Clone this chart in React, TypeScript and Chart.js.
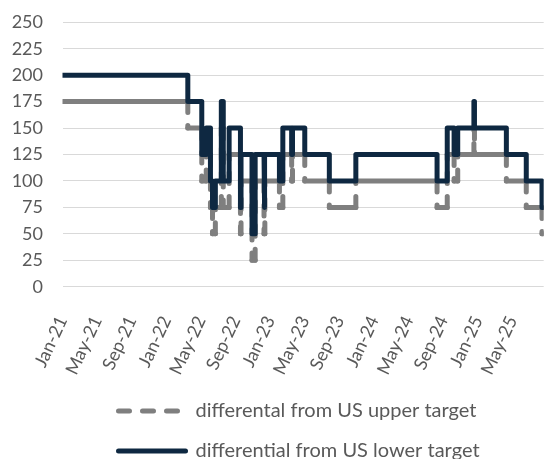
import React, { useEffect, useRef } from 'react';
import { Chart, registerables } from 'chart.js';

Chart.register(...registerables);

// Dates at which the differentials change (daily policy-rate data, step changes)
const changeDates = [
  '2021-01-01', '2022-03-16', '2022-05-04', '2022-05-20', '2022-06-04', '2022-06-11',
  '2022-06-21', '2022-07-12', '2022-07-19', '2022-08-09', '2022-09-18', '2022-09-20',
  '2022-10-29', '2022-11-09', '2022-12-10', '2022-12-13', '2023-02-03', '2023-02-14',
  '2023-03-16', '2023-03-19', '2023-05-01', '2023-07-27', '2023-10-29', '2024-08-10',
  '2024-09-15', '2024-10-09', '2024-10-22', '2024-12-18', '2024-12-20', '2025-04-10',
  '2025-06-19', '2025-08-14',
];
// differential from US lower target (bp), value from each change date on
const lowerValues = [
  200, 175, 125, 150, 100, 75,
  100, 175, 100, 150, 75, 125,
  50, 125, 75, 125, 100, 150,
  125, 150, 125, 100, 125, 100,
  150, 125, 150, 175, 150, 125,
  100, 75,
];
// differental from US upper target (bp), value from each change date on
const upperValues = [
  175, 150, 100, 125, 75, 50,
  75, 150, 75, 125, 50, 100,
  25, 100, 50, 100, 75, 125,
  100, 125, 100, 75, 100, 75,
  125, 100, 125, 150, 125, 100,
  75, 50,
];
const endDate = '2025-08-20';

const tickLabels = [
  'Jan-21', 'May-21', 'Sep-21', 'Jan-22', 'May-22', 'Sep-22', 'Jan-23',
  'May-23', 'Sep-23', 'Jan-24', 'May-24', 'Sep-24', 'Jan-25', 'May-25',
];
const seriesLabels = ['differental from US upper target', 'differential from US lower target'];
const yTicks = { min: 0, max: 250, step: 25 };

const MONTH_NAMES = ['Jan', 'Feb', 'Mar', 'Apr', 'May', 'Jun', 'Jul', 'Aug', 'Sep', 'Oct', 'Nov', 'Dec'];
const BASE_YEAR = 2021;

function dateToMonths(s: string): number {
  const [y, m, d] = s.split('-').map(Number);
  const daysInMonth = new Date(Date.UTC(y, m, 0)).getUTCDate();
  return (y - BASE_YEAR) * 12 + (m - 1) + (d - 1) / daysInMonth;
}
function labelToMonths(l: string): number {
  const [mon, yy] = l.split('-');
  return (2000 + Number(yy) - BASE_YEAR) * 12 + MONTH_NAMES.indexOf(mon);
}
function stepPoints(values: number[]) {
  const pts: { x: number; y: number }[] = [];
  changeDates.forEach((d, i) => {
    const x = dateToMonths(d);
    if (i > 0) pts.push({ x, y: values[i - 1] });
    pts.push({ x, y: values[i] });
  });
  pts.push({ x: dateToMonths(endDate), y: values[values.length - 1] });
  return pts;
}

const TEXT = '#595959';
const TICK_FONT = { family: 'Lato', size: 18 };
const LEGEND_FONT = { family: 'Lato', size: 20 };
const DASH = [11, 13];
const tickMonths = tickLabels.map(labelToMonths);

const legendPlace = {
  id: 'legendPlace',
  afterLayout(chart: any) {
    if (chart.legend) chart.legend.left = 90.5;
  },
};

export default function App() {
  const ref = useRef<HTMLCanvasElement>(null);
  useEffect(() => {
    const chart = new Chart(ref.current as HTMLCanvasElement, {
      type: 'line',
      data: {
        datasets: [
          {
            label: seriesLabels[0],
            data: stepPoints(upperValues),
            borderColor: '#7F7F7F',
            backgroundColor: '#7F7F7F',
            borderWidth: 5,
            borderDash: DASH,
            borderCapStyle: 'round',
            borderJoinStyle: 'round',
            pointRadius: 0,
            fill: false,
            tension: 0,
            order: 1,
            segment: {
              borderDash: (ctx: any) => (ctx.p0.parsed.x === ctx.p1.parsed.x ? undefined : []),
            },
          } as any,
          {
            label: seriesLabels[1],
            data: stepPoints(lowerValues),
            borderColor: '#0E2841',
            backgroundColor: '#0E2841',
            borderWidth: 5,
            borderCapStyle: 'round',
            borderJoinStyle: 'round',
            pointRadius: 0,
            fill: false,
            tension: 0,
            order: 0,
          } as any,
        ],
      },
      options: {
        animation: false,
        responsive: true,
        maintainAspectRatio: false,
        events: [],
        layout: { padding: { top: 14.3, left: 0, right: 0, bottom: 0 } },
        scales: {
          x: {
            type: 'linear',
            min: 0,
            max: dateToMonths(endDate),
            afterBuildTicks: (s: any) => {
              s.ticks = tickMonths.map((v) => ({ value: v }));
            },
            afterFit: (s: any) => {
              s.height = 94.3;
            },
            ticks: {
              autoSkip: false,
              minRotation: 65,
              maxRotation: 65,
              padding: 18,
              color: TEXT,
              font: TICK_FONT,
              callback: (v: any) => tickLabels[tickMonths.indexOf(Number(v))] ?? '',
            },
            grid: { display: false },
            border: { display: false },
          },
          y: {
            min: yTicks.min,
            max: yTicks.max,
            afterFit: (s: any) => {
              s.width = 54.5;
              s.paddingTop = 0;
              s.paddingBottom = 0;
            },
            ticks: { stepSize: yTicks.step, padding: 19.5, color: TEXT, font: TICK_FONT },
            grid: { color: '#D9D9D9', lineWidth: 1, drawTicks: false },
            border: { display: false },
          },
        },
        plugins: {
          tooltip: { enabled: false },
          legend: {
            position: 'bottom',
            align: 'start',
            fullSize: false,
            labels: {
              usePointStyle: true,
              pointStyle: 'line',
              pointStyleWidth: 67,
              padding: 20,
              color: TEXT,
              font: LEGEND_FONT,
              generateLabels: (c: any) =>
                Chart.defaults.plugins.legend.labels.generateLabels(c).map((it: any) => ({
                  ...it,
                  lineCap: 'round',
                  lineWidth: 5,
                  lineDash: it.datasetIndex === 0 ? DASH : [],
                })),
              sort: (a: any, b: any) => a.datasetIndex - b.datasetIndex,
            },
          },
        },
      } as any,
      plugins: [legendPlace],
    });
    return () => chart.destroy();
  }, []);
  return (
    <div style={{ position: 'fixed', left: 8, top: 8, width: 542, height: 463 }}>
      <canvas ref={ref} />
    </div>
  );
}
